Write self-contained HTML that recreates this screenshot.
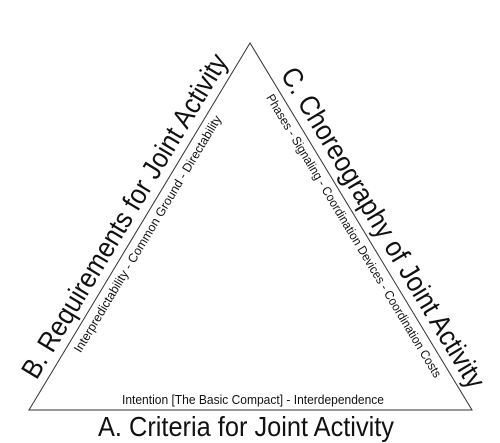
<!DOCTYPE html>
<html><head><style>html,body{margin:0;padding:0;background:#fff;}svg{display:block}</style></head>
<body>
<svg width="500" height="443" viewBox="0 0 500 443" xmlns="http://www.w3.org/2000/svg" font-family="Liberation Sans, sans-serif" fill="#111">
<polygon points="250,43 29,410 472,410" fill="none" stroke="#333" stroke-width="1"/>
<g transform="translate(132.5,220.8) rotate(-59)">
<text x="0" y="0" font-size="28" text-anchor="middle" textLength="373" lengthAdjust="spacingAndGlyphs">B. Requirements for Joint Activity</text>
</g>
<g transform="translate(151.2,236) rotate(-59)">
<text x="0" y="0" font-size="12.5" text-anchor="middle" textLength="274" lengthAdjust="spacingAndGlyphs">Interpredictability - Common Ground - Directability</text>
</g>
<g transform="translate(375,232.5) rotate(59)">
<text x="0" y="0" font-size="28" text-anchor="middle" textLength="369" lengthAdjust="spacingAndGlyphs">C. Choreography of Joint Activity</text>
</g>
<g transform="translate(350.3,238) rotate(59)">
<text x="0" y="0" font-size="12.5" text-anchor="middle" textLength="328" lengthAdjust="spacingAndGlyphs">Phases - Signaling - Coordination Devices - Coordination Costs</text>
</g>
<text x="253" y="404" font-size="12.5" text-anchor="middle" textLength="262" lengthAdjust="spacingAndGlyphs">Intention [The Basic Compact] - Interdependence</text>
<text x="246" y="436" font-size="28" text-anchor="middle" textLength="296" lengthAdjust="spacingAndGlyphs">A. Criteria for Joint Activity</text>
</svg>
</body></html>
